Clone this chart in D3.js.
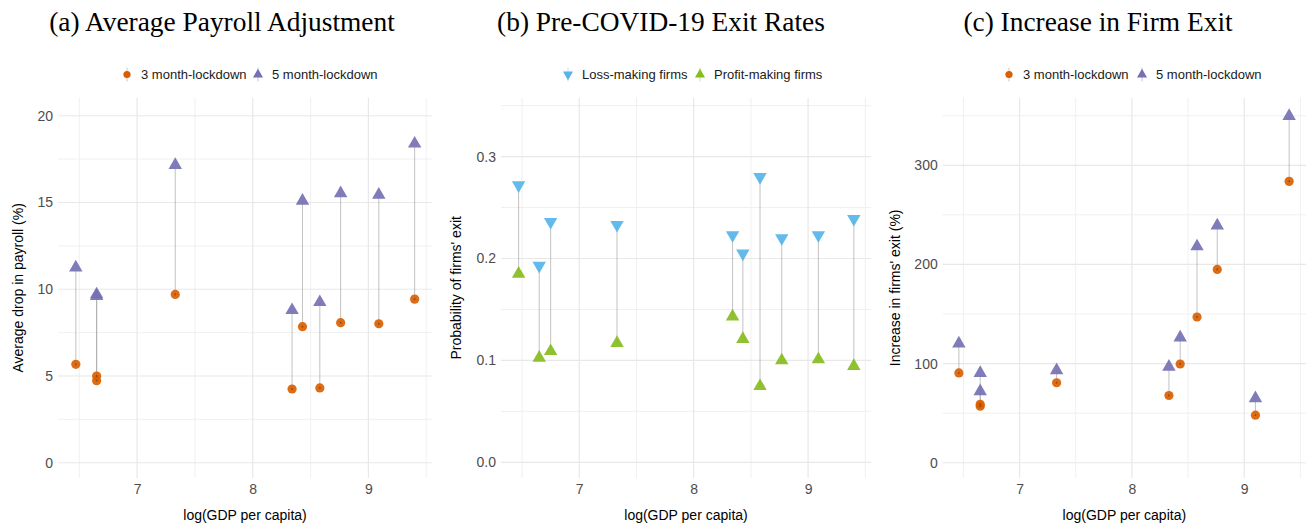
<!DOCTYPE html>
<html>
<head>
<meta charset="utf-8">
<script src="https://cdn.jsdelivr.net/npm/d3@7"></script>
<style>
  body { margin: 0; background: #fff; }
  svg { display: block; }
</style>
</head>
<body>
<svg id="chart" width="1307" height="525"></svg>
<script>
// ---------- data ----------
const panelTitles = ["(a) Average Payroll Adjustment", "(b) Pre-COVID-19 Exit Rates", "(c) Increase in Firm Exit"];
const xTitle = "log(GDP per capita)";
const yTitles = ["Average drop in payroll (%)", "Probability of firms' exit", "Increase in firms' exit (%)"];

const xTicks = [7, 8, 9];
const yTicksA = [0, 5, 10, 15, 20];
const yTicksB = [0.0, 0.1, 0.2, 0.3];
const yTicksC = [0, 100, 200, 300];

// (a) average payroll adjustment
const gdpA = [6.47, 6.65, 6.65, 7.33, 8.34, 8.43, 8.58, 8.76, 9.09, 9.40];
const lock3A = [5.67, 4.73, 5.00, 9.70, 4.25, 7.84, 4.31, 8.07, 8.01, 9.43];
const lock5A = [11.25, 9.60, 9.70, 17.16, 8.79, 15.10, 9.25, 15.53, 15.44, 18.39];

// (b) pre-COVID-19 exit rates
const gdpB = [6.47, 6.65, 6.75, 7.33, 8.34, 8.43, 8.58, 8.77, 9.09, 9.40];
const lossB = [0.272, 0.193, 0.236, 0.233, 0.223, 0.205, 0.280, 0.220, 0.223, 0.239];
const profitB = [0.185, 0.1025, 0.109, 0.117, 0.143, 0.121, 0.0747, 0.100, 0.101, 0.0944];

// (c) increase in firm exit
const gdpC = [6.46, 6.65, 6.65, 7.33, 8.33, 8.43, 8.58, 8.76, 9.10, 9.40];
const lock3C = [90.6, 57.0, 59.0, 80.7, 67.8, 99.6, 147.0, 195.0, 48.0, 283.8];
const lock5C = [120.2, 72.0, 90.5, 93.2, 96.8, 126.2, 218.2, 239.2, 65.0, 349.7];

const legendA = ["3 month-lockdown", "5 month-lockdown"];
const legendB = ["Loss-making firms", "Profit-making firms"];

// ---------- styles ----------
const ORANGE = "#d95f02", PURPLE = "#7570b3", BLUE = "#56B4E9", GREEN = "#86bc1e";
const svg = d3.select("#chart");

function panel(cfg) {
  const g = svg.append("g");
  const x = d3.scaleLinear().domain([6.316, 9.55]).range([cfg.left, cfg.right]);
  const y = d3.scaleLinear().domain(cfg.yDomain).range([478, 97.7]);

  // minor gridlines
  const xMinor = [6.5, 7.5, 8.5, 9.5];
  g.selectAll(".vminor").data(xMinor).join("line")
    .attr("x1", d => x(d)).attr("x2", d => x(d)).attr("y1", 97.7).attr("y2", 478)
    .attr("stroke", "#eeeeee").attr("stroke-width", 0.9);
  g.selectAll(".hminor").data(cfg.yMinor).join("line")
    .attr("x1", cfg.left).attr("x2", cfg.right).attr("y1", d => y(d)).attr("y2", d => y(d))
    .attr("stroke", "#eeeeee").attr("stroke-width", 0.9);
  // major gridlines
  g.selectAll(".vmajor").data(xTicks).join("line")
    .attr("x1", d => x(d)).attr("x2", d => x(d)).attr("y1", 97.7).attr("y2", 478)
    .attr("stroke", "#e8e8e8").attr("stroke-width", 1.2);
  g.selectAll(".hmajor").data(cfg.yTicks).join("line")
    .attr("x1", cfg.left).attr("x2", cfg.right).attr("y1", d => y(d)).attr("y2", d => y(d))
    .attr("stroke", "#e8e8e8").attr("stroke-width", 1.2);

  // axes (labels only, via d3 axis)
  const xa = g.append("g").attr("transform", "translate(0,478)")
    .call(d3.axisBottom(x).tickValues(xTicks).tickSize(0).tickPadding(6).tickFormat(d3.format("d")));
  xa.select(".domain").remove();
  xa.selectAll("text").attr("font-family", "Liberation Sans, Arial, sans-serif").attr("font-size", 14).attr("fill", "#4d4d4d");
  const ya = g.append("g").attr("transform", `translate(${cfg.left},0)`)
    .call(d3.axisLeft(y).tickValues(cfg.yTicks).tickSize(0).tickPadding(5).tickFormat(cfg.yFmt));
  ya.select(".domain").remove();
  ya.selectAll("text").attr("font-family", "Liberation Sans, Arial, sans-serif").attr("font-size", 14).attr("fill", "#4d4d4d");

  // axis titles
  g.append("text").attr("x", (cfg.left + cfg.right) / 2).attr("y", 520)
    .attr("text-anchor", "middle").attr("font-family", "Liberation Sans, Arial, sans-serif")
    .attr("font-size", 14).attr("fill", "#000").text(xTitle);
  g.append("text").attr("transform", `translate(${cfg.yTitleX},${(97.7 + 478) / 2}) rotate(-90)`)
    .attr("text-anchor", "middle").attr("font-family", "Liberation Sans, Arial, sans-serif")
    .attr("font-size", 14).attr("fill", "#000").text(cfg.yTitle);

  // title
  g.append("text").attr("x", cfg.titleX).attr("y", 31).attr("text-anchor", "middle")
    .attr("font-family", "Liberation Serif, Times New Roman, serif").attr("font-size", 27.4)
    .attr("fill", "#000").text(cfg.title);

  // segments
  const idx = d3.range(cfg.xs.length);
  g.selectAll(".seg").data(idx).join("line")
    .attr("x1", i => x(cfg.xs[i])).attr("x2", i => x(cfg.xs[i]))
    .attr("y1", i => y(cfg.s1[i])).attr("y2", i => y(cfg.s2[i]))
    .attr("stroke", "#9a9a9a").attr("stroke-opacity", 0.6).attr("stroke-width", 1);

  // markers
  function drawMarks(vals, m) {
    const gg = g.append("g");
    if (m.type === "circle") {
      gg.selectAll("circle").data(idx).join("circle")
        .attr("cx", i => x(cfg.xs[i])).attr("cy", i => y(vals[i])).attr("r", 4.6)
        .attr("fill", m.color).attr("fill-opacity", 0.92);
      gg.selectAll(".dot").data(idx).join("circle")
        .attr("cx", i => x(cfg.xs[i])).attr("cy", i => y(vals[i])).attr("r", 0.9)
        .attr("fill", "#6b2f00").attr("fill-opacity", 0.6);
    } else {
      const sym = d3.symbol().type(d3.symbolTriangle).size(78);
      gg.selectAll("path").data(idx).join("path")
        .attr("d", sym())
        .attr("transform", i => `translate(${x(cfg.xs[i])},${y(vals[i])})${m.type === "down" ? " rotate(180)" : ""}`)
        .attr("fill", m.color).attr("fill-opacity", 0.92);
    }
  }
  drawMarks(cfg.s1, cfg.m1);
  drawMarks(cfg.s2, cfg.m2);

  // legend
  const lg = g.append("g").attr("font-family", "Liberation Sans, Arial, sans-serif").attr("font-size", 13);
  cfg.legend.forEach((lab, k) => {
    const mx = cfg.legendX[k], my = 74.5;
    const m = cfg.legM[k];
    lg.append("line").attr("x1", mx).attr("x2", mx).attr("y1", my - 7).attr("y2", my + 7)
      .attr("stroke", m.color).attr("stroke-width", 0.6).attr("stroke-opacity", 0.7);
    if (m.type === "circle") {
      lg.append("circle").attr("cx", mx).attr("cy", my).attr("r", 3.6).attr("fill", m.color);
    } else {
      lg.append("path").attr("d", d3.symbol().type(d3.symbolTriangle).size(44)())
        .attr("transform", `translate(${mx},${my})${m.type === "down" ? " rotate(180)" : ""}`)
        .attr("fill", m.color);
    }
    lg.append("text").attr("x", mx + 14).attr("y", 79).attr("fill", "#1a1a1a").text(lab);
  });
}

panel({
  left: 58, right: 432, yDomain: [-0.88, 21.04], yTicks: yTicksA, yMinor: [2.5, 7.5, 12.5, 17.5],
  yFmt: d3.format("d"), yTitle: yTitles[0], yTitleX: 23, title: panelTitles[0], titleX: 222,
  xs: gdpA, s1: lock3A, s2: lock5A,
  m1: { type: "circle", color: ORANGE }, m2: { type: "up", color: PURPLE },
  legend: legendA, legendX: [127, 258], legM: [{ type: "circle", color: ORANGE }, { type: "up", color: PURPLE }]
});
panel({
  left: 501, right: 871, yDomain: [-0.0154, 0.3578], yTicks: yTicksB, yMinor: [0.05, 0.15, 0.25, 0.35],
  yFmt: d3.format(".1f"), yTitle: yTitles[1], yTitleX: 461, title: panelTitles[1], titleX: 661,
  xs: gdpB, s1: lossB, s2: profitB,
  m1: { type: "down", color: BLUE }, m2: { type: "up", color: GREEN },
  legend: legendB, legendX: [568, 700], legM: [{ type: "down", color: BLUE }, { type: "up", color: GREEN }]
});
panel({
  left: 942.7, right: 1306, yDomain: [-15.4, 368.2], yTicks: yTicksC, yMinor: [50, 150, 250, 350],
  yFmt: d3.format("d"), yTitle: yTitles[2], yTitleX: 900, title: panelTitles[2], titleX: 1098,
  xs: gdpC, s1: lock3C, s2: lock5C,
  m1: { type: "circle", color: ORANGE }, m2: { type: "up", color: PURPLE },
  legend: legendA, legendX: [1009, 1142], legM: [{ type: "circle", color: ORANGE }, { type: "up", color: PURPLE }]
});
</script>
</body>
</html>
